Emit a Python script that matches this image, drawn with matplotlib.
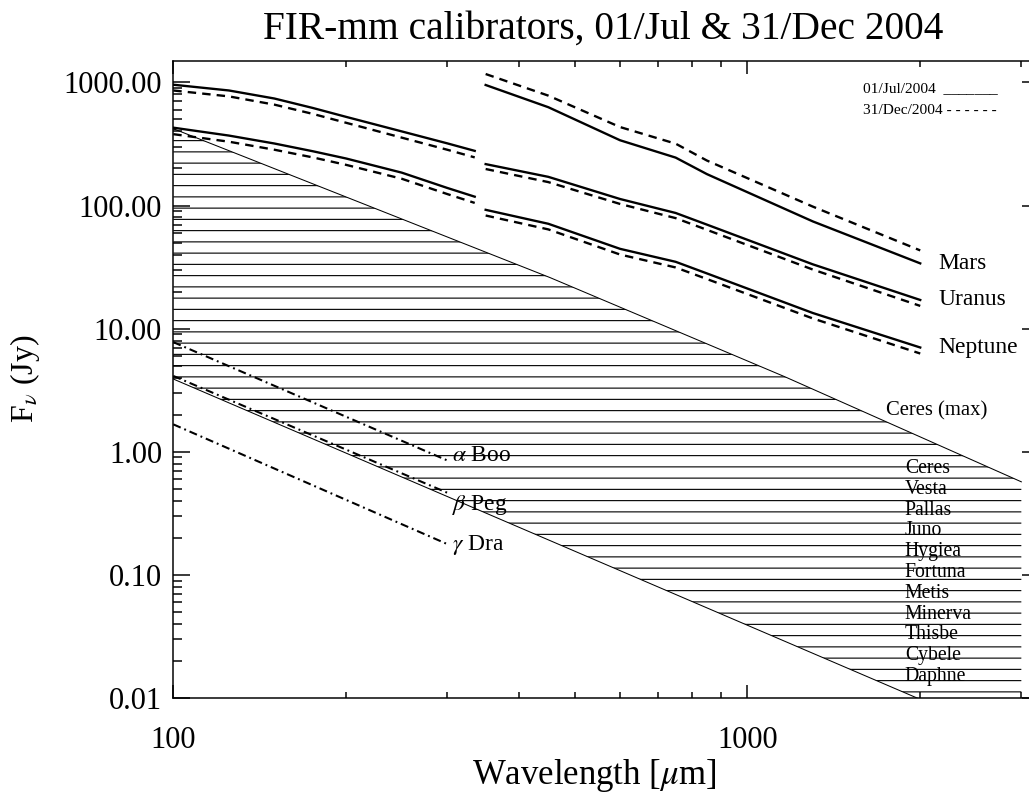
import matplotlib
matplotlib.use("Agg")
import matplotlib.pyplot as plt
from matplotlib.ticker import LogLocator, FormatStrFormatter, NullFormatter

plt.rcParams['font.family'] = ['Liberation Serif', 'DejaVu Serif']
plt.rcParams['mathtext.fontset'] = 'stix'
plt.rcParams['hatch.linewidth'] = 0.6
plt.rcParams['hatch.color'] = 'black'

#%% data (wavelength in micron, flux in Jy)
lam_left = [100, 125, 150, 175, 200, 250, 300, 335]
mars_jul_left = [958, 860, 740, 620, 525, 400, 320, 278]
mars_dec_left = [860, 770, 660, 555, 470, 356, 284, 246]
uranus_jul_left = [429, 370, 319, 276, 241, 185, 139, 118]
uranus_dec_left = [380, 330, 284, 246, 214, 165, 124, 105]

lam_right = [350, 450, 600, 750, 850, 1300, 2000]
mars_jul_right = [953, 629, 339, 245, 180, 74.3, 33.9]
mars_dec_right = [1170, 781, 434, 318, 232, 98, 43.2]
uranus_jul_right = [217, 171, 113, 87, 70, 33.3, 17.1]
uranus_dec_right = [198, 155, 103, 79, 63.5, 30.2, 15.3]
neptune_jul_right = [92.3, 71.1, 44.5, 34.9, 28.1, 13.4, 7.03]
neptune_dec_right = [83, 64, 40, 31.4, 25.3, 12.1, 6.28]

lam_star = [100, 300]
alpha_boo = [7.77, 0.851]
beta_peg = [4.13, 0.465]
gamma_dra = [1.67, 0.178]

# asteroid band: upper edge = Ceres (max), lower edge
lam_ceres = [100, 453, 1163, 3000]
ceres_max = [421, 26.0, 4.06, 0.57]
lam_low = [100, 2000, 3000]
band_low = [3.9, 0.00975, 0.0043]

asteroids = ['Ceres', 'Vesta', 'Pallas', 'Juno', 'Hygiea', 'Fortuna',
             'Metis', 'Minerva', 'Thisbe', 'Cybele', 'Daphne']

#%%
dpi = 135
fig = plt.figure(figsize=(1029 / dpi, 796 / dpi), dpi=dpi)
ax = fig.add_axes([0.1684, 0.1231, 0.8413, 0.8006])
ax.set_xscale('log')
ax.set_yscale('log')
ax.set_xlim(100, 3220)
ax.set_ylim(0.01, 1500)

# hatched asteroid band
band_x = lam_ceres + lam_low[::-1]
band_y = ceres_max + band_low[::-1]
ax.fill(band_x, band_y, facecolor='none', edgecolor='black', linewidth=0, hatch='--')
ax.plot(lam_ceres, ceres_max, color='black', lw=0.55)
ax.plot(lam_low, band_low, color='black', lw=0.55)

# planets
lw = 1.25
dash = (0, (3.6, 2.6))
for x, jul, dec in [(lam_left, mars_jul_left, mars_dec_left),
                    (lam_left, uranus_jul_left, uranus_dec_left),
                    (lam_right, mars_jul_right, mars_dec_right),
                    (lam_right, uranus_jul_right, uranus_dec_right),
                    (lam_right, neptune_jul_right, neptune_dec_right)]:
    ax.plot(x, jul, color='black', lw=lw)
    ax.plot(x, dec, color='black', lw=lw, linestyle=dash)

for name, jul in [('Mars', mars_jul_right), ('Uranus', uranus_jul_right),
                  ('Neptune', neptune_jul_right)]:
    ax.text(2150, jul[-1], name, fontsize=12.5, va='center', ha='left')

# stars
star_ls = (0, (3.9, 1.9, 0.9, 1.9))
for y, lab, ylab in [(alpha_boo, r'$\alpha$ Boo', 0.94),
                     (beta_peg, r'$\beta$ Peg', 0.372),
                     (gamma_dra, r'$\gamma$ Dra', 0.1736)]:
    ax.plot(lam_star, y, color='black', lw=1.1, linestyle=star_ls)
    ax.text(306, ylab, lab, fontsize=12.5, va='center', ha='left')

ax.text(1740, 2.13, 'Ceres (max)', fontsize=11, va='center', ha='left')
for i, name in enumerate(asteroids):
    ax.text(0.845, 0.3599 - i * 0.0326, name, fontsize=10.5, va='center',
            ha='left', transform=ax.transAxes)

# legend as text
fig.text(863 / 1029, 1 - 89 / 796, '01/Jul/2004  _______', fontsize=8.2, va='center')
fig.text(863 / 1029, 1 - 110 / 796, '31/Dec/2004 - - - - - -', fontsize=8.2, va='center')

# axes styling
ax.xaxis.set_major_locator(LogLocator(base=10))
ax.xaxis.set_minor_locator(LogLocator(base=10, subs=range(2, 10)))
ax.yaxis.set_major_locator(LogLocator(base=10))
ax.yaxis.set_minor_locator(LogLocator(base=10, subs=range(2, 10)))
ax.xaxis.set_major_formatter(FormatStrFormatter('%d'))
ax.xaxis.set_minor_formatter(NullFormatter())
ax.yaxis.set_major_formatter(FormatStrFormatter('%.2f'))
ax.yaxis.set_minor_formatter(NullFormatter())
ax.tick_params(axis='both', which='both', direction='in', top=True, right=True, width=0.8)
ax.tick_params(axis='x', which='major', length=6.8, pad=15, labelsize=16.3)
ax.tick_params(axis='x', which='minor', length=3.4)
ax.tick_params(axis='y', which='major', length=9.2, pad=6, labelsize=16.3)
ax.tick_params(axis='y', which='minor', length=4.6)
for s in ax.spines.values():
    s.set_linewidth(0.8)

fig.text(603 / 1029, 1 - 29 / 796, 'FIR-mm calibrators, 01/Jul & 31/Dec 2004',
         fontsize=21, ha='center', va='center')
fig.text(594 / 1029, 1 - 775 / 796, r'Wavelength [$\mu$m]', fontsize=18.5,
         ha='center', va='center')
fig.text(25 / 1029, 1 - 379 / 796, r'F$_\nu$ (Jy)', fontsize=17, rotation=90,
         ha='center', va='center')

fig.savefig('out.png', dpi=dpi)
